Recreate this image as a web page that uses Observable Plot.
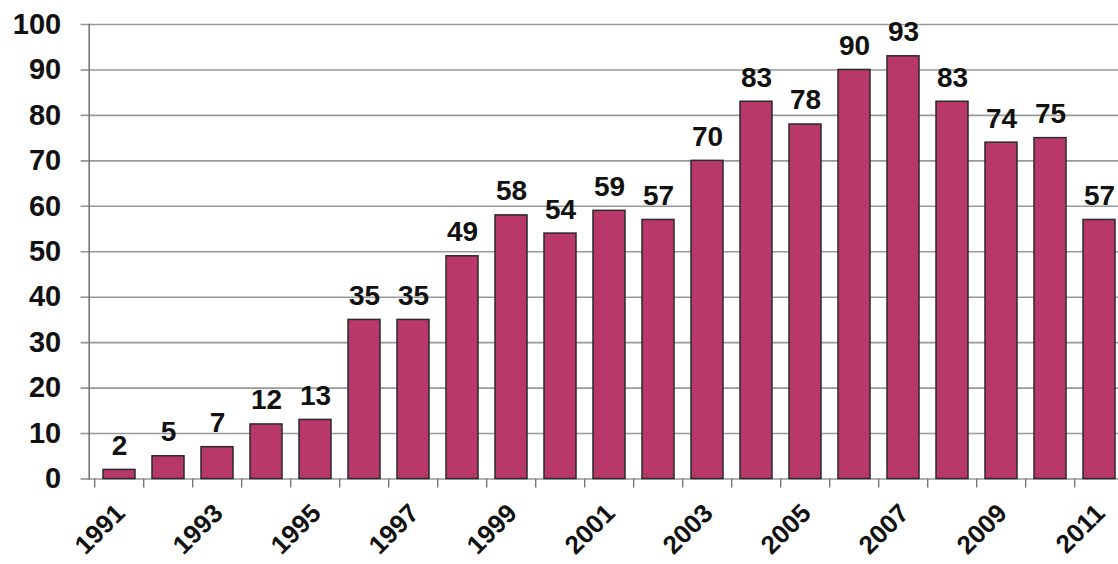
<!DOCTYPE html>
<html>
<head>
<meta charset="utf-8">
<script src="https://cdn.jsdelivr.net/npm/d3@7"></script>
<script src="https://cdn.jsdelivr.net/npm/@observablehq/plot@0.6"></script>
<style>
  html, body { margin: 0; padding: 0; background: #ffffff; overflow: hidden; }
  #chart { width: 1118px; height: 564px; overflow: hidden; }
  #chart svg { overflow: visible; max-width: none !important; }
</style>
</head>
<body>
<div id="chart"></div>
<script>
// Yearly counts, 1991–2011
const years = [1991, 1992, 1993, 1994, 1995, 1996, 1997, 1998, 1999, 2000, 2001,
               2002, 2003, 2004, 2005, 2006, 2007, 2008, 2009, 2010, 2011];
const counts = [2, 5, 7, 12, 13, 35, 35, 49, 58, 54, 59, 57, 70, 83, 78, 90, 93, 83, 74, 75, 57];
const yTicks = [0, 10, 20, 30, 40, 50, 60, 70, 80, 90, 100];
const labeledYears = years.filter((y, i) => i % 2 === 0);

const data = years.map((year, i) => ({year, count: counts[i]}));

const font = "'Liberation Sans', Arial, sans-serif";
const barFill = "#b8386a";
const lineGray = "#999999";
const step = (1131 - 88.7 - 0.7) / years.length;

const chart = Plot.plot({
  width: 1131,
  height: 564,
  marginLeft: 88.7,
  marginRight: 0.7,
  marginTop: 24,
  marginBottom: 85.5,
  style: {fontFamily: font, background: "transparent", overflow: "visible", maxWidth: "none"},
  x: {type: "band", domain: years, paddingInner: 0.34, paddingOuter: 0.17, axis: null},
  y: {domain: [0, 100], axis: null},
  marks: [
    // horizontal grid, running a little past the axis as tick marks
    Plot.ruleY(yTicks, {y: d => d, stroke: lineGray, strokeWidth: 1.6, insetLeft: -8}),
    // y tick labels
    Plot.axisY({
      ticks: yTicks,
      tickSize: 8,
      tickPadding: 20,
      stroke: lineGray,
      fontSize: 29,
      fontWeight: "bold",
      fill: "#111",
      label: null
    }),
    // vertical axis line
    Plot.frame({anchor: "left", stroke: "#777", strokeWidth: 1.6}),
    // ticks between the bars
    Plot.axisX({
      ticks: years,
      tickSize: 9,
      tickFormat: () => "",
      dx: -step / 2,
      stroke: "#777",
      strokeWidth: 1.4,
      label: null
    }),
    Plot.barY(data, {x: "year", y: "count", fill: barFill, stroke: "#2a2a2a", strokeWidth: 1.5}),
    // value labels above bars
    Plot.text(data, {
      x: "year",
      y: "count",
      text: d => String(d.count),
      lineAnchor: "bottom",
      dy: -15,
      fontSize: 28,
      fontWeight: "bold",
      fill: "#111"
    }),
    // rotated year labels
    Plot.text(labeledYears, {
      x: d => d,
      frameAnchor: "bottom",
      text: d => String(d),
      rotate: -45,
      textAnchor: "end",
      lineAnchor: "middle",
      dx: 1,
      dy: 30,
      fontSize: 26,
      fontWeight: "bold",
      fill: "#111"
    })
  ]
});

document.getElementById("chart").appendChild(chart);
</script>
</body>
</html>
